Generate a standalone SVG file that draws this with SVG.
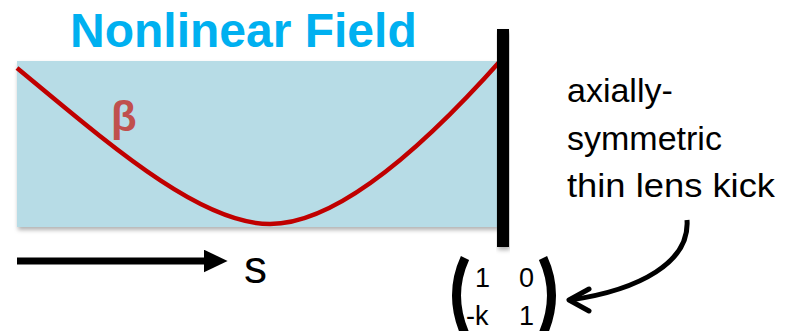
<svg xmlns="http://www.w3.org/2000/svg" width="793" height="331" viewBox="0 0 793 331">
<defs>
<filter id="sh" x="-5%" y="-5%" width="110%" height="115%">
<feDropShadow dx="1" dy="3" stdDeviation="2" flood-color="#000" flood-opacity="0.3"/>
</filter>
<marker id="ah" viewBox="0 0 10 10" refX="1" refY="5" markerWidth="24" markerHeight="23" markerUnits="userSpaceOnUse" orient="auto" preserveAspectRatio="none">
<path d="M0,0 L10,5 L0,10 Z" fill="#000"/>
</marker>
</defs>
<style>
.sans{font-family:"Liberation Sans",Arial,sans-serif}
.lbl{font-family:"Liberation Sans",Arial,sans-serif;font-size:34px;fill:#000}
.mx{font-family:"Liberation Sans",Arial,sans-serif;font-size:27px;fill:#000}
</style>
<g id="title"><text class="sans" x="70" y="47" font-size="48" font-weight="bold" fill="#00b0f0">Nonlinear Field</text></g>
<g id="field">
<rect x="17" y="61" width="481" height="166" fill="#b7dce6" filter="url(#sh)"/>
</g>
<g id="beta-curve">
<path d="M17,68 C110,145 200,224 270,224 C340,224 430,140 502,59" fill="none" stroke="#c00000" stroke-width="4.5"/>
<text class="sans" x="111" y="131" font-size="42" font-weight="bold" fill="#c0504d">β</text>
</g>
<g id="lens">
<rect x="497" y="29" width="12" height="218" fill="#000" filter="url(#sh)"/>
</g>
<g id="connectors">
<line x1="17" y1="261" x2="206" y2="261" stroke="#000" stroke-width="7" marker-end="url(#ah)"/>
<path d="M687,220 C690,262 640,290 570,300" fill="none" stroke="#000" stroke-width="5"/>
<path d="M589,289 L569,300 L589,311" fill="none" stroke="#000" stroke-width="5" stroke-linecap="round" stroke-linejoin="round"/>
</g>
<g id="s-label"><text class="sans" x="244" y="283" font-size="46">s</text></g>
<g id="lens-label">
<text class="lbl" x="567" y="102">axially-</text>
<text class="lbl" x="567" y="150">symmetric</text>
<text class="lbl" x="567" y="197" textLength="208" lengthAdjust="spacingAndGlyphs">thin lens kick</text>
</g>
<g id="matrix">
<path d="M465,258 Q448,295 465,334" fill="none" stroke="#000" stroke-width="9"/>
<path d="M543,258 Q560,295 543,334" fill="none" stroke="#000" stroke-width="9"/>
<text class="mx" x="475" y="287">1</text>
<text class="mx" x="519" y="287">0</text>
<text class="mx" x="466" y="325">-k</text>
<text class="mx" x="519" y="325">1</text>
</g>
</svg>
